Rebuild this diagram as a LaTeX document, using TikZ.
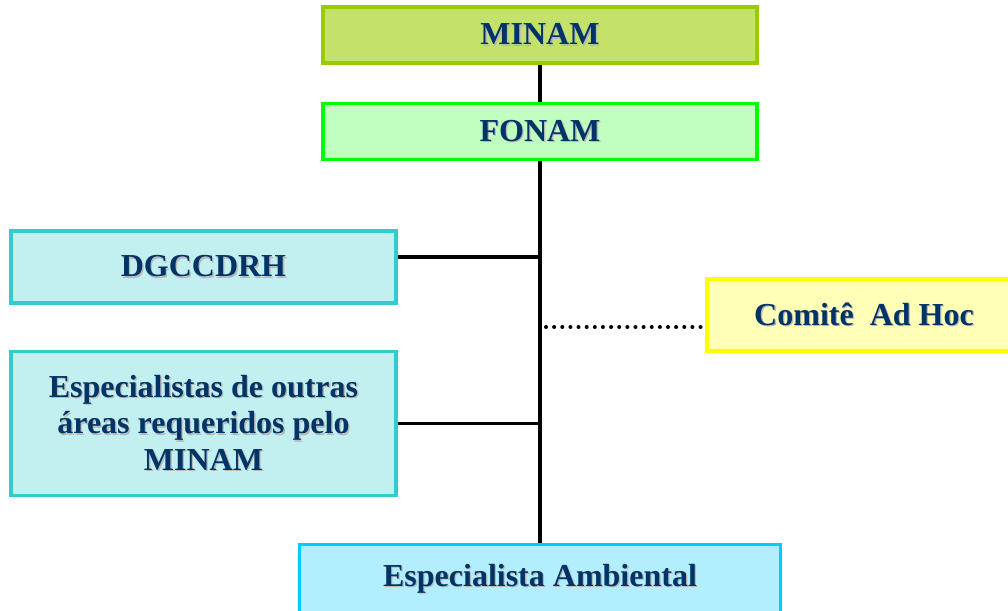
\documentclass[tikz,border=0pt]{standalone}
\usepackage{fontspec}
\setmainfont{Liberation Serif}
\usepackage{xcolor}
\usetikzlibrary{positioning}

\definecolor{textblue}{RGB}{0,51,102}
\definecolor{minamfill}{RGB}{196,226,106}
\definecolor{minamline}{RGB}{153,204,0}
\definecolor{fonamfill}{RGB}{192,255,192}
\definecolor{fonamline}{RGB}{0,255,0}
\definecolor{tealfill}{RGB}{194,239,239}
\definecolor{tealline}{RGB}{51,204,204}
\definecolor{comitefill}{RGB}{255,255,184}
\definecolor{comiteline}{RGB}{255,255,0}
\definecolor{ambfill}{RGB}{179,238,255}
\definecolor{ambline}{RGB}{0,204,255}

% text with a light drop shadow
\newcommand{\shadowed}[1]{\makebox[0pt][l]{\hspace{1pt}\raisebox{-1pt}{\textcolor{black!28}{#1}}}#1}

\begin{document}
\begin{tikzpicture}[
        % Styles
        orgbox/.style={rectangle, line width=2.3pt, align=center, inner sep=0pt,
                font=\bfseries\fontsize{24}{27.4}\selectfont, text=textblue},
        topbox/.style={orgbox, draw=minamline, fill=minamfill,
                minimum width=325.5pt, minimum height=42pt},
        fonambox/.style={orgbox, draw=fonamline, fill=fonamfill,
                minimum width=325.5pt, minimum height=42pt},
        sidebox/.style={orgbox, draw=tealline, fill=tealfill, minimum width=288.75pt},
        adhocbox/.style={orgbox, draw=comiteline, fill=comitefill,
                minimum width=235.5pt, minimum height=54pt},
        basebox/.style={orgbox, draw=ambline, fill=ambfill, minimum width=360.75pt,
                inner ysep=15.5pt, text height=16pt, text depth=22pt},
        trunkline/.style={line width=2.3pt, black},
        dotline/.style={line width=3pt, black, line cap=round,
                dash pattern=on 0pt off 6.1pt}, ]

        \clip (0,0) rectangle (756pt,-458.25pt);
        \useasboundingbox (0,0) rectangle (756pt,-458.25pt);

        % === TOP ===
        \node[topbox] (minam) at (405pt,-26.25pt) {\shadowed{MINAM}};
        \node[fonambox, below=28pt of minam] (fonam) {\shadowed{FONAM}};

        % === LEFT SIDE ===
        \node[sidebox, minimum height=54pt] (dgcc) at (152.6pt,-200.25pt) {\shadowed{DGCCDRH}};
        \node[sidebox, minimum height=108pt, below=34pt of dgcc] (espec)
        {\shadowed{Especialistas de outras}\\\shadowed{áreas requeridos pelo}\\\shadowed{MINAM}};

        % === RIGHT SIDE ===
        \node[adhocbox] (comite) at (648pt,-236.25pt) {\shadowed{Comitê\ \ Ad Hoc}};

        % === BOTTOM ===
        \node[basebox, anchor=north] (amb) at (405pt,-407.25pt) {\shadowed{Especialista Ambiental}};

        % Connections
        \draw[trunkline] (minam.south) -- (fonam.north);
        \draw[trunkline] (fonam.south) -- (amb.north);
        \draw[trunkline] ([yshift=7.5pt]dgcc.east) -- ([yshift=7.5pt]dgcc.east -| fonam.south);
        \draw[trunkline] (espec.east) -- (espec.east -| fonam.south);
        \coordinate (dotstart) at ([xshift=4.5pt,yshift=-9pt]comite.west -| fonam.south);
        \draw[dotline] (dotstart) -- ([yshift=-9pt]comite.west);

    \end{tikzpicture}
\end{document}
